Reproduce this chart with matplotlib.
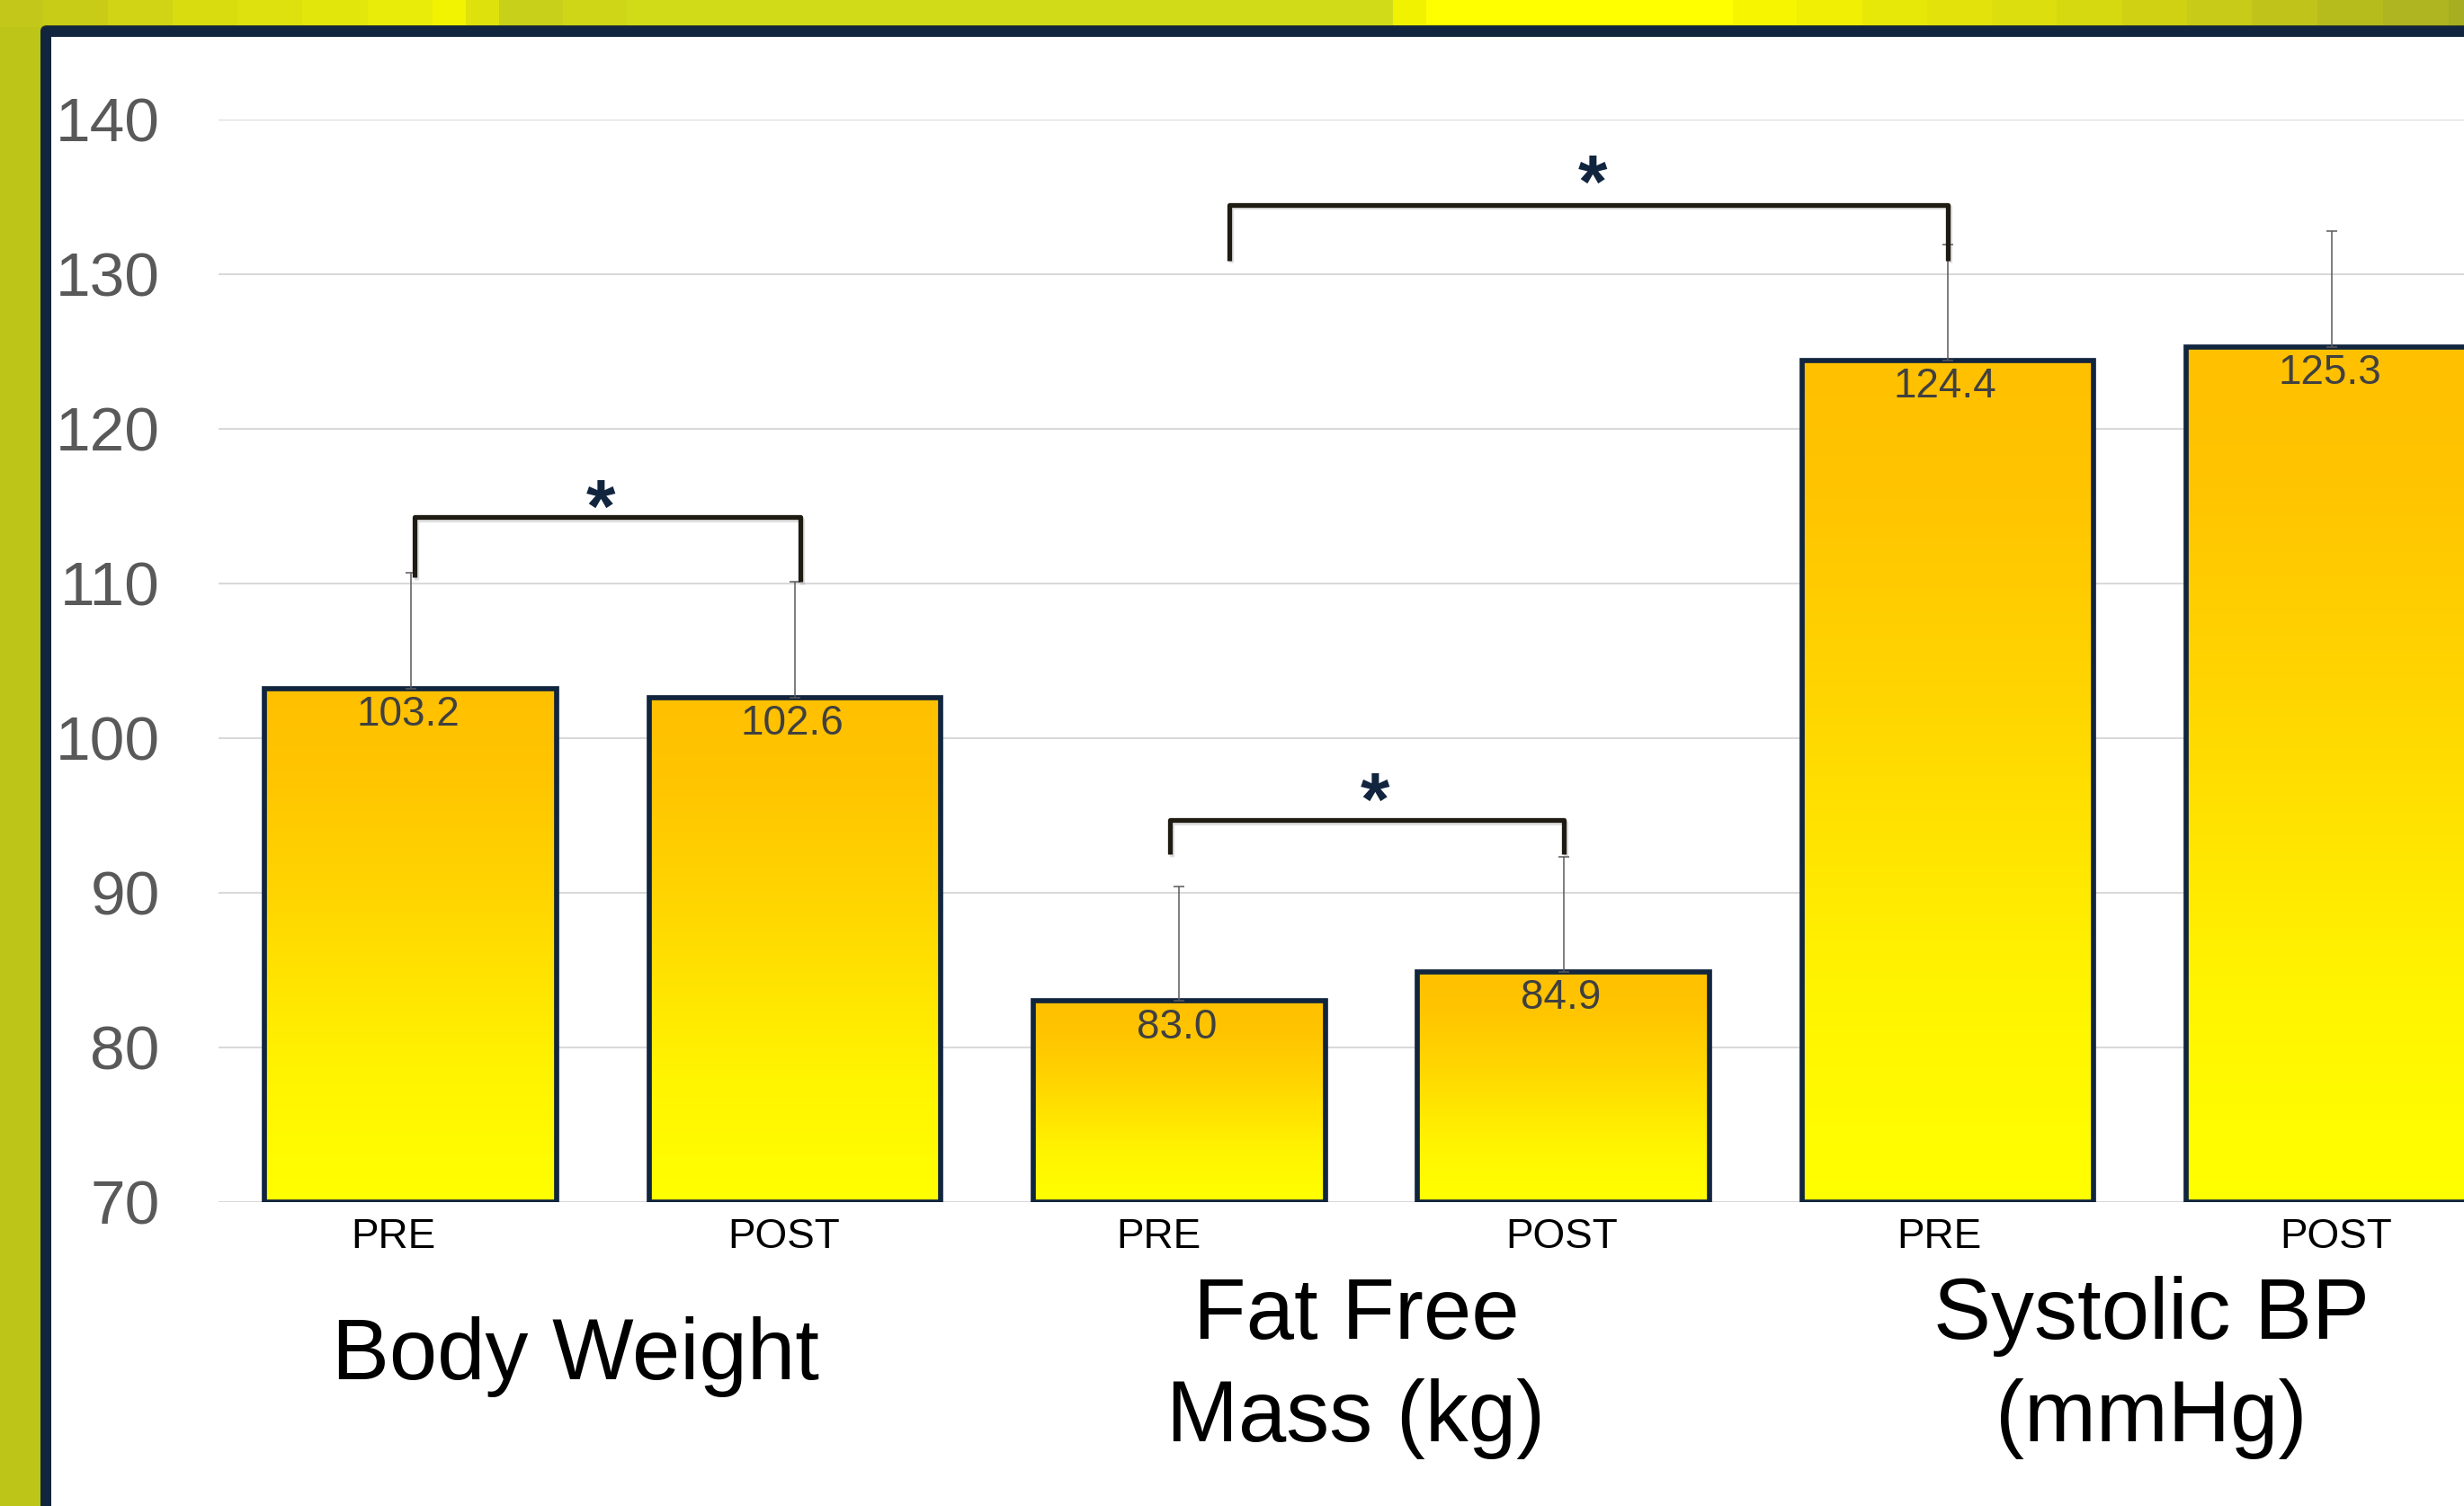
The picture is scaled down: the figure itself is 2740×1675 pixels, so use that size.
import numpy as np
import matplotlib
matplotlib.use('Agg')
import matplotlib.pyplot as plt
from matplotlib.patches import Rectangle, FancyBboxPatch
from matplotlib.colors import LinearSegmentedColormap
import matplotlib.patheffects as pe
import matplotlib.transforms as mtransforms

plt.rcParams['font.family'] = ['Liberation Sans', 'DejaVu Sans']

# ---------------- data ----------------
conditions = ['PRE', 'POST', 'PRE', 'POST', 'PRE', 'POST']
means = [103.2, 102.6, 83.0, 84.9, 124.4, 125.3]
sd_upper = [7.5, 7.5, 7.4, 7.4, 7.5, 7.5]
value_labels = ['103.2', '102.6', '83.0', '84.9', '124.4', '125.3']
groups = ['Body Weight', 'Fat Free\nMass (kg)', 'Systolic BP\n(mmHg)']
y_ticks = [70, 80, 90, 100, 110, 120, 130, 140]
y_min, y_max = 70, 140

# significance brackets: left x, right x, left leg end, right leg end, top
bracket_left = [0.01, 1.975, 2.13]
bracket_right = [1.013, 3.0, 4.0]
bracket_leg_left = [110.4, 92.5, 130.9]
bracket_leg_right = [110.1, 92.5, 130.9]
bracket_top = [114.3, 94.7, 134.5]
star_x = [0.494, 2.509, 3.075]
star_y = [115.8, 96.9, 136.8]

# ---------------- figure ----------------
W, H = 2740, 1675
DPI = 100
fig = plt.figure(figsize=(W / DPI, H / DPI), dpi=DPI)

# background (pixel coordinates)
bg = fig.add_axes([0, 0, 1, 1], zorder=0)
bg.set_xlim(0, W)
bg.set_ylim(H, 0)
bg.axis('off')
bg.add_patch(Rectangle((0, 0), W, H, color='#BEC519', lw=0))
band = [(48, '#C3C719'), (120, '#C8CC17'), (192, '#D1D414'), (264, '#D9DC0F'),
        (336, '#DEE10D'), (409, '#E3E60B'), (481, '#E9EB08'), (518, '#F1F300'),
        (555, '#DFE10D'), (626, '#C8D01A'), (697, '#CED617'), (1549, '#D2DB17'),
        (1586, '#F0F200'), (1927, '#FFFF00'), (1998, '#F7F600'), (2071, '#F0EF04'),
        (2143, '#E8E808'), (2215, '#E3E30B'), (2287, '#DDDE0D'), (2360, '#D7D910'),
        (2432, '#D0D113'), (2504, '#C8CB17'), (2577, '#C0C41A'), (2650, '#B7BC1D'),
        (2723, '#AFB520'), (2740, '#A8AE22')]
x0 = 0
for xe, c in band:
    bg.add_patch(Rectangle((x0, 0), xe - x0, 30, color=c, lw=0))
    x0 = xe
bg.add_patch(FancyBboxPatch((45, 28), W + 40, H + 40,
                            boxstyle='round,pad=0,rounding_size=7',
                            fc='#4A5320', ec='none'))
bg.add_patch(FancyBboxPatch((45, 29), W + 40, H + 40,
                            boxstyle='round,pad=0,rounding_size=7',
                            fc='#12253F', ec='none'))
bg.add_patch(Rectangle((57, 41), W, H, color='white', lw=0))

# main axes
ax_left, ax_bottom = 243 / W, 1 - 1337 / H
ax_w, ax_h = 2564 / W, 1204 / H
ax = fig.add_axes([ax_left, ax_bottom, ax_w, ax_h], zorder=1)
ax.patch.set_alpha(0)

x = np.arange(len(means))
heights = np.array(means) - y_min
bars = ax.bar(x, heights, bottom=y_min, width=0.76, facecolor='none',
              edgecolor='#12253F', linewidth=4.1, zorder=3)

cmap = LinearSegmentedColormap.from_list(
    'barfill', [(0.0, '#FFFF00'), (0.25, '#FFF400'), (0.6, '#FFD500'),
                (0.85, '#FFC400'), (1.0, '#FFC000')])
grad = np.linspace(0, 1, 256).reshape(-1, 1)
for b in bars:
    bx, by, bw, bh = b.get_x(), b.get_y(), b.get_width(), b.get_height()
    im = ax.imshow(grad, extent=[bx, bx + bw, by, by + bh], origin='lower',
                   aspect='auto', cmap=cmap, zorder=2.5, interpolation='bilinear')
    im.set_clip_path(b)

ax.errorbar(x, means, yerr=[np.zeros(len(means)), sd_upper], fmt='none',
            ecolor='#5A5A5A', elinewidth=1.1, capsize=4.3, capthick=1.1, zorder=4)

for xi, m, lbl in zip(x, means, value_labels):
    ax.annotate(lbl, xy=(xi, m), xytext=(-2, -21), textcoords='offset points',
                ha='center', va='center', fontsize=33, color='#404040', zorder=5)

ax.set_xlim(-0.5, len(means) - 0.5)
ax.set_ylim(y_min, y_max)
ax.set_yticks(y_ticks)
ax.set_yticklabels([str(t) for t in y_ticks], fontsize=50, color='#595959')
ax.set_xticks(x)
ax.set_xticklabels(conditions, fontsize=33, color='black')
ax.tick_params(axis='y', length=0, pad=47)
ax.tick_params(axis='x', length=0, pad=12)
# small horizontal nudges of category labels (pixels), as in the original slide
tick_nudge_px = [-19, -12, -23, -2, -10, 4]
for lbl, dx in zip(ax.get_xticklabels(), tick_nudge_px):
    lbl.set_transform(lbl.get_transform() +
                      mtransforms.ScaledTranslation(dx / DPI, 0, fig.dpi_scale_trans))
ax.yaxis.grid(True, color='#D9D9D9', linewidth=1.5)
ax.set_axisbelow(True)
for s in ax.spines.values():
    s.set_visible(False)

# significance brackets
for xl, xr, yl, yr, yt in zip(bracket_left, bracket_right, bracket_leg_left,
                              bracket_leg_right, bracket_top):
    ax.plot([xl, xl, xr, xr], [yl, yt, yt, yr], color='#1E1B12', lw=3.8,
            solid_joinstyle='round', solid_capstyle='butt', clip_on=False, zorder=6,
            path_effects=[pe.SimpleLineShadow(offset=(1.5, -2), alpha=0.25,
                                              shadow_color='gray'), pe.Normal()])
for sx, sy in zip(star_x, star_y):
    ax.annotate('*', xy=(sx, sy), xytext=(0, -31), textcoords='offset points',
                ha='center', va='baseline', fontsize=60, fontweight='bold',
                color='#12253F', zorder=7, annotation_clip=False)

# group labels (baselines in figure pixels)
group_label_x = [0.43, 2.46, 4.53]
trans = mtransforms.blended_transform_factory(ax.transData, fig.transFigure)
for gx, g in zip(group_label_x, groups):
    lines = g.split('\n')
    if len(lines) == 1:
        baselines = [1534]
    else:
        baselines = [1489, 1603]
    for ln, bl in zip(lines, baselines):
        ax.text(gx, 1 - bl / H, ln, transform=trans, ha='center', va='baseline',
                fontsize=69, color='black', clip_on=False)

fig.savefig('out.png', dpi=DPI)
